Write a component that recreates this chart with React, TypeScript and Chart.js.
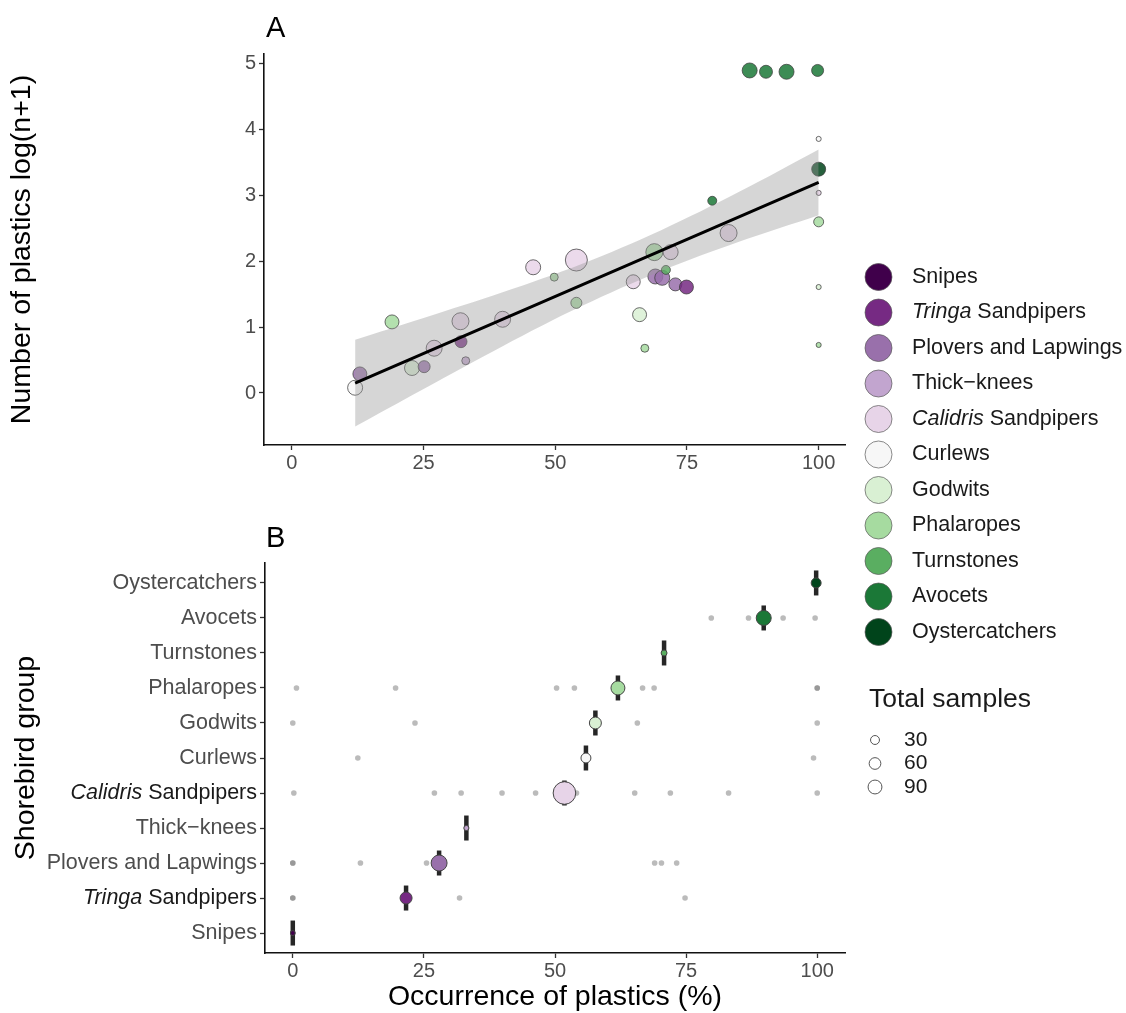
import React, { useEffect, useRef } from 'react';
import { Chart, registerables } from 'chart.js';
Chart.register(...registerables);

const FONT = '"Liberation Sans", Arial, Helvetica, sans-serif';
const W = 1126;
const H = 1013;

// Shorebird groups (bottom -> top on panel B, top -> bottom in legend); *x* = italic
const groupNames = [
  'Snipes',
  '*Tringa* Sandpipers',
  'Plovers and Lapwings',
  'Thick\u2212knees',
  '*Calidris* Sandpipers',
  'Curlews',
  'Godwits',
  'Phalaropes',
  'Turnstones',
  'Avocets',
  'Oystercatchers',
];
const groupColors = ['#40004b', '#762a83', '#9970ab', '#c2a5cf', '#e7d4e8', '#f7f7f7', '#d9f0d3', '#a6dba0', '#5aae61', '#1b7837', '#00441b'];

// Panel A: species points
const aOccurrence = [12.0, 12.9, 19.0, 22.8, 25.1, 27.0, 32.1, 32.0, 33.0, 40.0, 45.8, 49.8, 54.0, 54.0, 64.8, 66.0, 67.0, 68.8, 71.9, 69.0, 70.3, 71.0, 72.8, 74.9, 79.8, 82.9, 86.9, 90.0, 93.9, 99.8, 100, 100, 100, 100, 100, 100];
const aLogPlastics = [0.08, 0.29, 1.08, 0.38, 0.40, 0.68, 0.78, 1.09, 0.49, 1.12, 1.91, 1.76, 2.02, 1.37, 1.69, 1.19, 0.68, 2.14, 2.14, 1.77, 1.75, 1.87, 1.65, 1.61, 2.92, 2.43, 4.90, 4.88, 4.88, 4.90, 3.86, 3.40, 3.04, 2.60, 1.61, 0.73];
const aGroup = [5, 2, 7, 6, 2, 4, 1, 4, 3, 4, 4, 7, 4, 7, 4, 6, 7, 7, 4, 2, 2, 8, 2, 1, 9, 4, 9, 9, 9, 9, 5, 10, 4, 7, 6, 7];
const aSamples = [107, 91, 91, 107, 64, 123, 64, 141, 21, 123, 107, 21, 245, 52, 91, 91, 21, 141, 107, 107, 107, 30, 77, 91, 30, 141, 107, 77, 107, 64, 1, 91, 1, 40, 1, 1];

// Panel A: fitted line and confidence band
const fitX = [12, 100];
const fitY = [0.15, 3.2];
const bandX = [12, 25, 40, 55, 70, 85, 100];
const bandLow = [-0.51, 0.06, 0.71, 1.32, 1.85, 2.30, 2.70];
const bandHigh = [0.81, 1.14, 1.53, 1.96, 2.47, 3.06, 3.70];

// Panel B: group means and samples
const bMean = [0, 21.6, 27.9, 33.1, 51.8, 55.9, 57.7, 62.0, 70.8, 89.8, 99.8];
const bSamples = [0, 64, 123, 1, 259, 40, 64, 91, 6, 107, 40];
// Panel B: species occurrences (grey dots)
const bSpeciesGroup = [0, 1, 1, 1, 1, 2, 2, 2, 2, 2, 2, 2, 3, 4, 4, 4, 4, 4, 4, 4, 4, 4, 4, 5, 5, 6, 6, 6, 6, 7, 7, 7, 7, 7, 7, 7, 7, 8, 9, 9, 9, 9, 9, 10];
const bSpeciesOcc = [0, 0, 0, 31.8, 74.8, 0, 0, 12.9, 25.5, 69.0, 70.3, 73.2, 33.1, 0.2, 27.0, 32.1, 39.9, 46.3, 54.1, 65.2, 72.0, 83.1, 100, 12.4, 99.3, 0, 23.3, 65.7, 100, 0.7, 19.6, 50.3, 53.7, 66.7, 68.9, 100, 100, 70.8, 79.8, 86.9, 89.8, 93.5, 99.6, 100];

const xTicks = [0, 25, 50, 75, 100];
const yTicksA = [0, 1, 2, 3, 4, 5];
const sizeLegend = [30, 60, 90];

const sampleRadius = (n: number) => Math.sqrt(6 + 0.47 * n);
const hexA = (hex: string, a: number) => {
  const n = parseInt(hex.slice(1), 16);
  return `rgba(${(n >> 16) & 255},${(n >> 8) & 255},${n & 255},${a})`;
};

function drawRich(ctx: CanvasRenderingContext2D, text: string, x: number, y: number, size: number, color: string, align: 'left' | 'right') {
  const segs = text.split('*').map((t, i) => ({ t, it: i % 2 === 1 })).filter((s) => s.t.length > 0);
  const fontOf = (it: boolean) => `${it ? 'italic ' : ''}${size}px ${FONT}`;
  let total = 0;
  for (const s of segs) {
    ctx.font = fontOf(s.it);
    total += ctx.measureText(s.t).width;
  }
  let cx = align === 'right' ? x - total : x;
  ctx.fillStyle = color;
  ctx.textBaseline = 'middle';
  ctx.textAlign = 'left';
  for (const s of segs) {
    ctx.font = fontOf(s.it);
    ctx.fillText(s.t, cx, y);
    cx += ctx.measureText(s.t).width;
  }
}

const axisCommon = (extra: any) => ({
  type: 'linear',
  grid: { display: true, drawOnChartArea: false, drawTicks: true, tickLength: 5, tickColor: '#333', tickWidth: 1.3 },
  border: { display: true, color: '#111', width: 1.6 },
  ...extra,
});

const titleFont = { family: FONT, size: 28.5, lineHeight: 1.1 };

export default function App() {
  const refA = useRef<HTMLCanvasElement | null>(null);
  const refB = useRef<HTMLCanvasElement | null>(null);

  useEffect(() => {
    const labelA = {
      id: 'labelA',
      afterDraw(chart: any) {
        const ctx = chart.ctx;
        ctx.save();
        ctx.font = `29px ${FONT}`;
        ctx.fillStyle = '#000';
        ctx.textBaseline = 'alphabetic';
        ctx.textAlign = 'left';
        ctx.fillText('A', 266, 37);
        ctx.restore();
      },
    };

    const chartA = new Chart(refA.current as HTMLCanvasElement, {
      type: 'scatter',
      data: {
        datasets: [
          {
            type: 'line',
            label: 'ci-low',
            data: bandX.map((x, i) => ({ x, y: bandLow[i] })),
            borderColor: 'rgba(0,0,0,0)',
            borderWidth: 0,
            pointRadius: 0,
            fill: false,
            tension: 0.35,
            showLine: true,
            order: 2,
          },
          {
            type: 'line',
            label: 'ci-high',
            data: bandX.map((x, i) => ({ x, y: bandHigh[i] })),
            borderColor: 'rgba(0,0,0,0)',
            backgroundColor: 'rgba(153,153,153,0.4)',
            borderWidth: 0,
            pointRadius: 0,
            fill: '-1',
            tension: 0.35,
            showLine: true,
            order: 2,
          },
          {
            type: 'line',
            label: 'fit',
            data: fitX.map((x, i) => ({ x, y: fitY[i] })),
            borderColor: '#000',
            borderWidth: 3,
            pointRadius: 0,
            fill: false,
            showLine: true,
            order: 1,
          },
          {
            type: 'scatter',
            label: 'species',
            data: aOccurrence.map((x, i) => ({ x, y: aLogPlastics[i] })),
            pointBackgroundColor: aGroup.map((g) => hexA(groupColors[g], 0.85)),
            pointBorderColor: 'rgba(60,60,60,0.75)',
            pointBorderWidth: 1,
            pointRadius: aSamples.map(sampleRadius),
            order: 3,
          },
        ] as any,
      },
      options: {
        animation: false,
        responsive: false,
        maintainAspectRatio: false,
        layout: { padding: { left: 0, top: 54, right: W - 845, bottom: H - 445 - 35 } },
        plugins: { legend: { display: false }, tooltip: { enabled: false } },
        scales: {
          x: axisCommon({
            min: -5.3,
            max: 105,
            afterFit: (s: any) => { s.height = 35; },
            afterBuildTicks: (s: any) => { s.ticks = xTicks.map((v) => ({ value: v })); },
            ticks: { font: { family: FONT, size: 20 }, color: '#4d4d4d', padding: 1, autoSkip: false, maxRotation: 0, callback: (v: any) => String(v) },
          }),
          y: axisCommon({
            min: -0.79,
            max: 5.15,
            afterFit: (s: any) => { s.width = 264; },
            afterBuildTicks: (s: any) => { s.ticks = yTicksA.map((v) => ({ value: v })); },
            ticks: { font: { family: FONT, size: 20 }, color: '#4d4d4d', padding: 3, callback: (v: any) => String(v) },
            title: { display: true, text: 'Number of plastics log(n+1)', font: titleFont, color: '#000', padding: { top: 6, bottom: 0 } },
          }),
        },
      } as any,
      plugins: [labelA],
    });

    const decorB = {
      id: 'decorB',
      afterDraw(chart: any) {
        const ctx: CanvasRenderingContext2D = chart.ctx;
        const ys = chart.scales.y;
        const left = chart.chartArea.left;
        ctx.save();
        // category labels
        groupNames.forEach((name, i) => {
          const y = ys.getPixelForValue(i + 1);
          drawRich(ctx, name, left - 8, y, 21.5, name.includes('*') ? '#1a1a1a' : '#4d4d4d', 'right');
        });
        // panel label
        ctx.font = `29px ${FONT}`;
        ctx.fillStyle = '#000';
        ctx.textBaseline = 'alphabetic';
        ctx.textAlign = 'left';
        ctx.fillText('B', 266, 547);
        // colour legend
        groupNames.forEach((name, i) => {
          const y = 277 + 35.5 * i;
          ctx.beginPath();
          ctx.arc(878.5, y, 13.5, 0, Math.PI * 2);
          ctx.fillStyle = groupColors[i];
          ctx.fill();
          ctx.lineWidth = 1;
          ctx.strokeStyle = 'rgba(90,90,90,0.7)';
          ctx.stroke();
          drawRich(ctx, name, 912, y, 21.5, '#1a1a1a', 'left');
        });
        // size legend
        ctx.font = `26.5px ${FONT}`;
        ctx.fillStyle = '#1a1a1a';
        ctx.textBaseline = 'middle';
        ctx.textAlign = 'left';
        ctx.fillText('Total samples', 869, 700);
        sizeLegend.forEach((n, i) => {
          const y = 740 + 23.5 * i;
          ctx.beginPath();
          ctx.arc(875, y, sampleRadius(n), 0, Math.PI * 2);
          ctx.fillStyle = '#fff';
          ctx.fill();
          ctx.lineWidth = 1;
          ctx.strokeStyle = '#555';
          ctx.stroke();
          ctx.font = `21px ${FONT}`;
          ctx.fillStyle = '#1a1a1a';
          ctx.fillText(String(n), 904, y);
        });
        ctx.restore();
      },
    };

    const chartB = new Chart(refB.current as HTMLCanvasElement, {
      type: 'scatter',
      data: {
        datasets: [
          {
            label: 'species',
            data: bSpeciesOcc.map((x, i) => ({ x, y: bSpeciesGroup[i] + 1 })),
            pointBackgroundColor: 'rgba(120,120,120,0.5)',
            pointBorderWidth: 0,
            pointRadius: 2.8,
            order: 3,
          },
          {
            label: 'range',
            data: bMean.map((x, i) => ({ x, y: i + 1 })),
            pointStyle: 'line',
            pointRotation: 90,
            pointRadius: 12.5,
            pointBorderWidth: 4.5,
            pointBorderColor: '#262626',
            order: 2,
          },
          {
            label: 'mean',
            data: bMean.map((x, i) => ({ x, y: i + 1 })),
            pointBackgroundColor: groupColors,
            pointBorderColor: '#444',
            pointBorderWidth: 1,
            pointRadius: bSamples.map(sampleRadius),
            order: 1,
          },
        ] as any,
      },
      options: {
        animation: false,
        responsive: false,
        maintainAspectRatio: false,
        layout: { padding: { left: 0, top: 563, right: W - 845, bottom: 0 } },
        plugins: { legend: { display: false }, tooltip: { enabled: false } },
        scales: {
          x: axisCommon({
            min: -5.3,
            max: 105.3,
            afterFit: (s: any) => { s.height = 60; },
            afterBuildTicks: (s: any) => { s.ticks = xTicks.map((v) => ({ value: v })); },
            ticks: { font: { family: FONT, size: 20 }, color: '#4d4d4d', padding: 1, autoSkip: false, maxRotation: 0, callback: (v: any) => String(v) },
            title: { display: true, text: 'Occurrence of plastics (%)', font: titleFont, color: '#000', padding: { top: 0, bottom: 0 } },
          }),
          y: axisCommon({
            min: 0.43,
            max: 11.57,
            afterFit: (s: any) => { s.width = 265; },
            afterBuildTicks: (s: any) => { s.ticks = groupNames.map((_, i) => ({ value: i + 1 })); },
            ticks: { font: { family: FONT, size: 20 }, color: 'rgba(0,0,0,0)', padding: 3, callback: () => '' },
            title: { display: true, text: 'Shorebird group', font: titleFont, color: '#000', padding: { top: 10, bottom: 0 } },
          }),
        },
      } as any,
      plugins: [decorB],
    });

    return () => {
      chartA.destroy();
      chartB.destroy();
    };
  }, []);

  const cs: React.CSSProperties = { position: 'absolute', left: 0, top: 0, width: W, height: H };
  return (
    <div style={{ position: 'absolute', left: 0, top: 0, width: W, height: H, background: '#fff' }}>
      <canvas ref={refA} width={W} height={H} style={cs} />
      <canvas ref={refB} width={W} height={H} style={cs} />
    </div>
  );
}
